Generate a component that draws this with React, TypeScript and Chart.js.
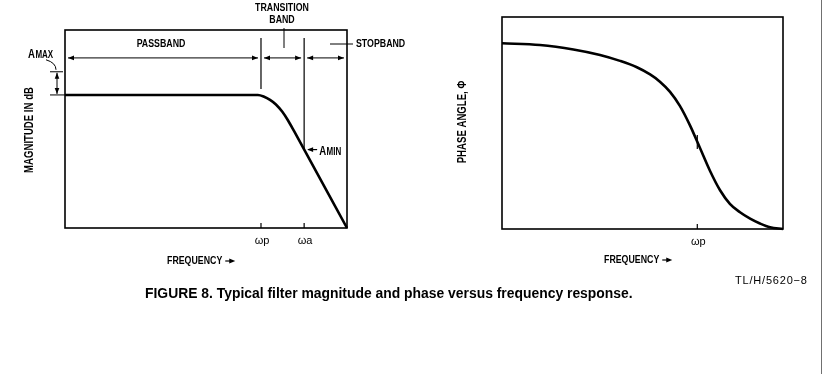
import { useEffect, useRef } from "react";
import { Chart, registerables } from "chart.js";

Chart.register(...registerables);

// Normalised frequency axis (0..10) and level axis (0..10) shared by both plots
const FREQ_MIN = 0;
const FREQ_MAX = 10;
const LEVEL_MIN = 0;
const LEVEL_MAX = 10;

// Band edges on the frequency axis
const OMEGA_P = 6.95;
const OMEGA_A = 8.48;

// Magnitude response (left plot)
const magFreq = [0, 6.84, 7.06, 7.27, 7.48, 7.7, 7.91, 8.12, 10];
const magLevel = [6.72, 6.72, 6.63, 6.47, 6.24, 5.88, 5.43, 4.9, 0];

// Levels used by the magnitude annotations
const PASSBAND_LEVEL = 6.72;
const AMAX_LEVEL = 7.89;
const AMIN_LEVEL = 3.96;
const BAND_ARROW_LEVEL = 8.59;
const BAND_LINE_TOP = 9.6;
const OMEGA_P_LINE_BOTTOM = 7.02;

// Phase response (right plot)
const phaseFreq = [0, 1.35, 2.54, 3.49, 4.2, 4.8, 5.27, 5.62, 5.98, 6.33, 6.69, 7.05, 7.4, 7.76, 8.11, 8.47, 8.83, 9.18, 9.54, 10];
const phaseAngle = [8.76, 8.68, 8.47, 8.21, 7.93, 7.63, 7.29, 6.95, 6.47, 5.81, 4.89, 3.81, 2.75, 1.83, 1.19, 0.79, 0.49, 0.26, 0.08, 0];
const PHASE_AT_OMEGA_P = 4.1;

// Text
const magTicks = [
  { value: OMEGA_P, label: "ωp" },
  { value: OMEGA_A, label: "ωa" },
];
const phaseTicks = [{ value: OMEGA_P, label: "ωp" }];
const MAG_TITLE = "MAGNITUDE IN dB";
const PHASE_TITLE = "PHASE ANGLE, Φ";
const FREQ_TITLE = "FREQUENCY";
const CAPTION = "FIGURE 8. Typical filter magnitude and phase versus frequency response.";
const FIG_CODE = "TL/H/5620−8";

const INK = "#000";
const FONT = '"Liberation Sans", Arial, sans-serif';

type Opts = {
  size?: number;
  bold?: boolean;
  align?: CanvasTextAlign;
  baseline?: CanvasTextBaseline;
  squeeze?: number;
  rotate?: boolean;
};

function text(ctx: CanvasRenderingContext2D, s: string, x: number, y: number, o: Opts = {}) {
  const size = o.size ?? 11;
  const squeeze = o.squeeze ?? 0.8;
  ctx.save();
  ctx.translate(x, y);
  if (o.rotate) ctx.rotate(-Math.PI / 2);
  ctx.scale(squeeze, 1);
  ctx.font = `${o.bold === false ? "" : "bold "}${size}px ${FONT}`;
  ctx.fillStyle = INK;
  ctx.textAlign = o.align ?? "left";
  ctx.textBaseline = o.baseline ?? "middle";
  ctx.fillText(s, 0, 0);
  const w = ctx.measureText(s).width * squeeze;
  ctx.restore();
  return w;
}

function line(ctx: CanvasRenderingContext2D, x1: number, y1: number, x2: number, y2: number, w = 1) {
  ctx.save();
  ctx.strokeStyle = INK;
  ctx.lineWidth = w;
  ctx.beginPath();
  ctx.moveTo(x1, y1);
  ctx.lineTo(x2, y2);
  ctx.stroke();
  ctx.restore();
}

function head(ctx: CanvasRenderingContext2D, x: number, y: number, dx: number, dy: number, len = 6, half = 2.3) {
  // arrowhead with its tip at (x, y), pointing along (dx, dy)
  const n = Math.hypot(dx, dy) || 1;
  const ux = dx / n;
  const uy = dy / n;
  ctx.save();
  ctx.fillStyle = INK;
  ctx.beginPath();
  ctx.moveTo(x, y);
  ctx.lineTo(x - ux * len - uy * half, y - uy * len + ux * half);
  ctx.lineTo(x - ux * len + uy * half, y - uy * len - ux * half);
  ctx.closePath();
  ctx.fill();
  ctx.restore();
}

function doubleArrow(ctx: CanvasRenderingContext2D, x1: number, y1: number, x2: number, y2: number) {
  line(ctx, x1, y1, x2, y2, 1);
  head(ctx, x1, y1, x1 - x2, y1 - y2);
  head(ctx, x2, y2, x2 - x1, y2 - y1);
}

function freqTitle(ctx: CanvasRenderingContext2D, x: number, y: number) {
  const w = text(ctx, FREQ_TITLE, x, y, { size: 11 });
  const ax = x + w + 3;
  line(ctx, ax, y, ax + 6, y, 1.2);
  head(ctx, ax + 10, y, 1, 0, 6, 2.6);
}

function frame(chart: Chart) {
  const { ctx, chartArea: a } = chart;
  ctx.save();
  ctx.strokeStyle = INK;
  ctx.lineWidth = 1.6;
  ctx.strokeRect(a.left, a.top, a.right - a.left, a.bottom - a.top);
  ctx.restore();
}

function bottomTicks(chart: Chart, ticks: { value: number; label: string }[]) {
  const { ctx, chartArea: a } = chart;
  const xs = chart.scales.x;
  for (const t of ticks) {
    const px = xs.getPixelForValue(t.value);
    line(ctx, px, a.bottom, px, a.bottom - 5, 1.2);
    ctx.save();
    ctx.font = `11px ${FONT}`;
    ctx.fillStyle = INK;
    ctx.textAlign = "center";
    ctx.textBaseline = "middle";
    ctx.fillText(t.label, px + 1, a.bottom + 13);
    ctx.restore();
  }
}

const magnitudeDecor = {
  id: "magnitudeDecor",
  beforeDatasetsDraw(chart: Chart) {
    frame(chart);
  },
  afterDatasetsDraw(chart: Chart) {
    const { ctx, chartArea: a } = chart;
    const X = (v: number) => chart.scales.x.getPixelForValue(v);
    const Y = (v: number) => chart.scales.y.getPixelForValue(v);
    const xp = X(OMEGA_P);
    const xa = X(OMEGA_A);

    bottomTicks(chart, magTicks);

    // band edge markers
    line(ctx, xp, Y(BAND_LINE_TOP), xp, Y(OMEGA_P_LINE_BOTTOM), 1.2);
    line(ctx, xa, Y(BAND_LINE_TOP), xa, Y(AMIN_LEVEL), 1.2);

    // band extent arrows
    const ya = Y(BAND_ARROW_LEVEL);
    doubleArrow(ctx, a.left + 3, ya, xp - 3, ya);
    doubleArrow(ctx, xp + 3, ya, xa - 3, ya);
    doubleArrow(ctx, xa + 3, ya, a.right - 3, ya);

    text(ctx, "PASSBAND", a.left + 96, a.top + 14, { align: "center" });
    text(ctx, "TRANSITION", 282, a.top - 22, { align: "center" });
    text(ctx, "BAND", 282, a.top - 10, { align: "center" });
    line(ctx, 284, a.top - 2, 284, a.top + 18, 1);
    line(ctx, a.right - 17, a.top + 14, a.right + 6, a.top + 14, 1);
    text(ctx, "STOPBAND", a.right + 9, a.top + 14);

    // passband ripple Amax
    const yTop = Y(AMAX_LEVEL);
    const yBot = Y(PASSBAND_LEVEL);
    line(ctx, a.left - 15, yTop, a.left - 2, yTop, 1);
    line(ctx, a.left - 15, yBot, a.left, yBot, 1);
    doubleArrow(ctx, a.left - 8, yTop + 1, a.left - 8, yBot - 1);
    const w = text(ctx, "A", 28, yTop - 14, { size: 12, baseline: "alphabetic" });
    text(ctx, "MAX", 28 + w + 0.5, yTop - 14, { size: 10, baseline: "alphabetic" });
    ctx.save();
    ctx.strokeStyle = INK;
    ctx.lineWidth = 1;
    ctx.beginPath();
    ctx.moveTo(46, yTop - 12);
    ctx.quadraticCurveTo(56, yTop - 9, 56, yTop - 2);
    ctx.stroke();
    ctx.restore();

    // stopband attenuation Amin
    const ym = Y(AMIN_LEVEL);
    line(ctx, xa + 4, ym, xa + 13, ym, 1.2);
    head(ctx, xa + 3, ym, -1, 0, 6, 2.4);
    const wm = text(ctx, "A", xa + 15, ym + 5, { size: 12, baseline: "alphabetic" });
    text(ctx, "MIN", xa + 15 + wm + 0.5, ym + 5, { size: 10, baseline: "alphabetic" });

    text(ctx, MAG_TITLE, 30, 130, { rotate: true, align: "center", size: 12 });
    freqTitle(ctx, a.left + 102, a.bottom + 33);
  },
};

const phaseDecor = {
  id: "phaseDecor",
  beforeDatasetsDraw(chart: Chart) {
    frame(chart);
  },
  afterDatasetsDraw(chart: Chart) {
    const { ctx, chartArea: a } = chart;
    const X = (v: number) => chart.scales.x.getPixelForValue(v);
    const Y = (v: number) => chart.scales.y.getPixelForValue(v);
    bottomTicks(chart, phaseTicks);
    const xp = X(OMEGA_P);
    const yp = Y(PHASE_AT_OMEGA_P);
    line(ctx, xp, yp - 7, xp, yp + 7, 1.2);
    text(ctx, PHASE_TITLE, a.left - 39, 122, { rotate: true, align: "center", size: 12 });
    freqTitle(ctx, a.left + 102, a.bottom + 31);
  },
};

function makeChart(
  canvas: HTMLCanvasElement,
  xs: number[],
  ys: number[],
  padding: { left: number; top: number; right: number; bottom: number },
  decor: any
) {
  return new Chart(canvas, {
    type: "line",
    data: {
      datasets: [
        {
          data: xs.map((x, i) => ({ x, y: ys[i] })),
          borderColor: INK,
          borderWidth: 2.6,
          pointRadius: 0,
          fill: false,
          cubicInterpolationMode: "monotone",
          clip: false as any,
        },
      ],
    },
    options: {
      animation: false,
      responsive: false,
      maintainAspectRatio: false,
      devicePixelRatio: 1,
      events: [],
      layout: { padding },
      scales: {
        x: { type: "linear", min: FREQ_MIN, max: FREQ_MAX, display: false },
        y: { type: "linear", min: LEVEL_MIN, max: LEVEL_MAX, display: false },
      },
      plugins: { legend: { display: false }, tooltip: { enabled: false }, title: { display: false } },
    },
    plugins: [decor],
  });
}

export default function App() {
  const magRef = useRef<HTMLCanvasElement>(null);
  const phaseRef = useRef<HTMLCanvasElement>(null);

  useEffect(() => {
    const charts: Chart[] = [];
    if (magRef.current) {
      charts.push(
        makeChart(magRef.current, magFreq, magLevel, { left: 65, top: 30, right: 73, bottom: 52 }, magnitudeDecor)
      );
    }
    if (phaseRef.current) {
      charts.push(
        makeChart(phaseRef.current, phaseFreq, phaseAngle, { left: 62, top: 17, right: 39, bottom: 51 }, phaseDecor)
      );
    }
    return () => charts.forEach((c) => c.destroy());
  }, []);

  return (
    <div style={{ position: "absolute", left: 0, top: 0, width: 822, height: 374, background: "#fff", overflow: "hidden" }}>
      <canvas ref={magRef} width={420} height={280} style={{ position: "absolute", left: 0, top: 0, width: 420, height: 280 }} />
      <canvas ref={phaseRef} width={382} height={280} style={{ position: "absolute", left: 440, top: 0, width: 382, height: 280 }} />
      <div style={{ position: "absolute", left: 821, top: 0, width: 1, height: 374, background: "#707070" }} />
      <div
        style={{
          position: "absolute",
          left: 735,
          top: 273,
          font: `11px ${FONT}`,
          letterSpacing: "0.8px",
          color: INK,
          whiteSpace: "nowrap",
          lineHeight: "14px",
        }}
      >
        {FIG_CODE}
      </div>
      <div
        style={{
          position: "absolute",
          left: 145,
          top: 285,
          font: `bold 13.9px ${FONT}`,
          color: INK,
          whiteSpace: "nowrap",
          lineHeight: "16px",
        }}
      >
        {CAPTION}
      </div>
    </div>
  );
}
